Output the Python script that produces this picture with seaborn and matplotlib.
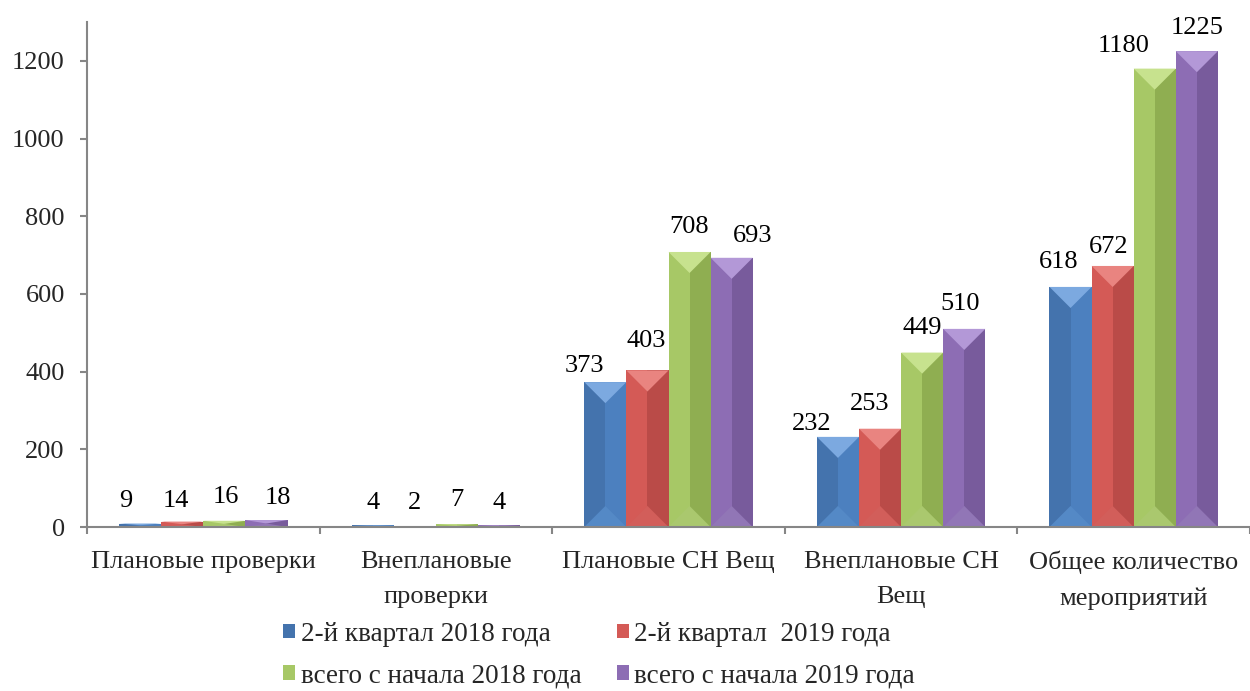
import numpy as np
import pandas as pd
import matplotlib
matplotlib.use('Agg')
import matplotlib.pyplot as plt
import seaborn as sns
from matplotlib.patches import Polygon, Rectangle

categories = ['Плановые проверки', 'Внеплановые\nпроверки', 'Плановые СН Вещ',
              'Внеплановые СН\nВещ', 'Общее количество\nмероприятий']
series_names = ['2-й квартал 2018 года', '2-й квартал  2019 года',
                'всего с начала 2018 года', 'всего с начала 2019 года']
q2_2018 = [9, 4, 373, 232, 618]
q2_2019 = [14, 2, 403, 253, 672]
total_2018 = [16, 7, 708, 449, 1180]
total_2019 = [18, 4, 693, 510, 1225]

# colours: left face, right face, top bevel, bottom bevel
left_cols = ['#4473AD', '#D45A56', '#A7C866', '#8D6DB4']
right_cols = ['#4C80BF', '#BA4B48', '#8FAE51', '#785B9C']
top_cols = ['#7CA9E0', '#E98480', '#C7E28E', '#B398D7']
bot_cols = ['#5489C6', '#D25E5A', '#AAC86E', '#9176B6']

# label nudges (pixels) so labels sit like in the excel original, per series x category
lab_dx = [[-14, 0, -21, -26, -12],
          [-6, 0, -1, -10, -4],
          [2, 0, 0, 0, -31],
          [11, 0, 21, -4, 0]]
lab_dy = [[17, 16, 10, 7, 19],
          [15, 17, 23, 19, 13],
          [18, 18, 19, 19, 17],
          [16, 16, 16, 19, 17]]

df = pd.DataFrame({
    'cat': np.repeat(categories, 4),
    'series': series_names * 5,
    'val': np.array([q2_2018, q2_2019, total_2018, total_2019]).T.ravel(),
})

sns.set_style('white')
plt.rcParams['font.family'] = ['Liberation Serif', 'DejaVu Serif']
FS = 19

fig = plt.figure(figsize=(12.5, 6.91), dpi=100)
ax = fig.add_axes([87 / 1250, 1 - 527 / 691, 1 - 87 / 1250, (527 - 22) / 691])

sns.barplot(data=df, x='cat', y='val', hue='series', hue_order=series_names,
            palette=left_cols, saturation=1, width=0.724, linewidth=0, ax=ax)

handles, labels = ax.get_legend_handles_labels()
ax.get_legend().remove()

ax.set_xlim(-0.5, 4.5)
ax.set_ylim(0, 1300)
ax.set_yticks(range(0, 1201, 200))
ax.set_xlabel('')
ax.set_ylabel('')

# bevel look
ax_w_px = ax.get_position().width * 1250
ax_h_px = ax.get_position().height * 691
px_x = ax_w_px / 5.0
px_y = ax_h_px / 1300.0
for i, cont in enumerate(ax.containers):
    for j, bar in enumerate(cont):
        x0 = bar.get_x()
        w = bar.get_width()
        h = bar.get_height()
        depth = min(w * px_x * 0.5 / px_y, h / 2)
        ax.add_patch(Rectangle((x0 + w / 2, 0), w / 2, h, color=right_cols[i], lw=0, zorder=2.1))
        ax.add_patch(Polygon([(x0, h), (x0 + w, h), (x0 + w / 2, h - depth)],
                             closed=True, color=top_cols[i], lw=0, zorder=2.2))
        ax.add_patch(Polygon([(x0, 0), (x0 + w, 0), (x0 + w / 2, depth)],
                             closed=True, color=bot_cols[i], lw=0, zorder=2.2))
        ax.annotate(f'{h:.0f}', (x0 + w / 2, h),
                    xytext=(lab_dx[i][j] * 0.72, lab_dy[i][j] * 0.72),
                    textcoords='offset points', ha='center', va='baseline',
                    fontsize=FS, color='black')

for s in ['top', 'right']:
    ax.spines[s].set_visible(False)
for s in ['left', 'bottom']:
    ax.spines[s].set_color('#868686')
    ax.spines[s].set_linewidth(1.5)

ax.tick_params(axis='y', which='major', length=5, width=1.5, color='#868686',
               left=True, labelsize=FS, pad=11)
ax.tick_params(axis='x', which='major', length=0, labelsize=FS, pad=17)
ax.set_xticks(np.arange(-0.5, 5, 1), minor=True)
ax.tick_params(axis='x', which='minor', length=5, width=1.5, color='#868686', bottom=True)
for t in ax.get_xticklabels():
    t.set_linespacing(1.78)

order = [0, 2, 1, 3]
fig.legend([handles[k] for k in order], [labels[k] for k in order], ncol=2,
           loc='center', bbox_to_anchor=(599 / 1250, 1 - 655 / 691), frameon=False,
           fontsize=19.5, handlelength=0.45, handleheight=0.45, handletextpad=0.2,
           columnspacing=1.3, labelspacing=0.62)

fig.savefig('out.png', dpi=100)
